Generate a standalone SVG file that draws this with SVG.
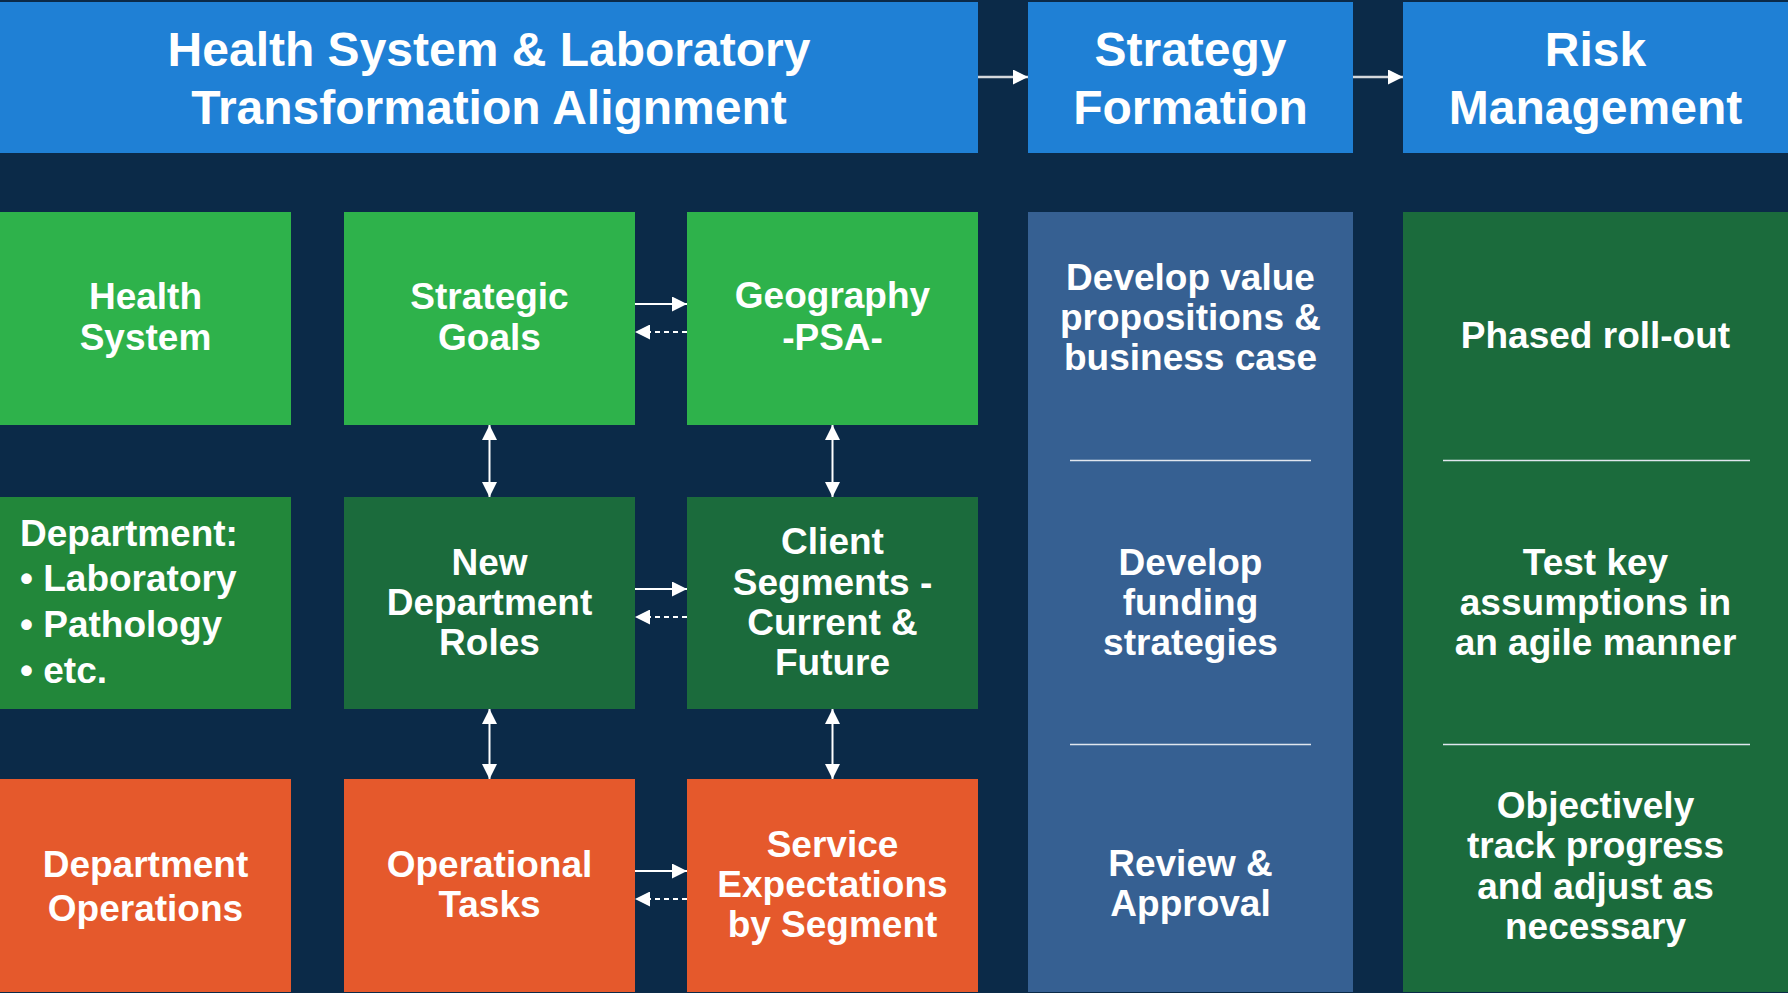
<svg xmlns="http://www.w3.org/2000/svg" width="1788" height="993" viewBox="0 0 1788 993">
<defs>
<style>
.t{font-family:"Liberation Sans",Arial,sans-serif;font-weight:bold;fill:#ffffff;text-anchor:middle;font-size:37px}
.h{font-size:48px}
.l{text-anchor:start}
.hdr{fill:#1f80d5}
.lg{fill:#2eb24b}
.dg{fill:#1b6b3c}
.mg{fill:#22873a}
.or{fill:#e5592c}
.sb{fill:#366092}
.sep{stroke:#e0e6ee;stroke-width:1.5}
.c{stroke:#ffffff;stroke-width:2;fill:none}
.ct{stroke:#d4d8dc;stroke-width:2.5;fill:none}
.d{stroke-dasharray:5 4}
</style>
<marker id="ah" viewBox="0 0 10 10" refX="10" refY="5" markerWidth="15" markerHeight="15" markerUnits="userSpaceOnUse" orient="auto-start-reverse">
<path d="M0,0 L10,5 L0,10 z" fill="#ffffff"/>
</marker>
</defs>
<rect x="0" y="0" width="1788" height="993" fill="#0b2a48"/>

<g id="hdr-alignment">
<rect class="hdr" x="0" y="2" width="978" height="151"/>
<text class="t h" x="489" y="66">Health System &amp; Laboratory</text>
<text class="t h" x="489" y="124">Transformation Alignment</text>
</g>
<g id="hdr-strategy">
<rect class="hdr" x="1028" y="2" width="325" height="151"/>
<text class="t h" x="1190.5" y="66">Strategy</text>
<text class="t h" x="1190.5" y="124">Formation</text>
</g>
<g id="hdr-risk">
<rect class="hdr" x="1403" y="2" width="385" height="151"/>
<text class="t h" x="1595.5" y="66">Risk</text>
<text class="t h" x="1595.5" y="124">Management</text>
</g>

<g id="health-system">
<rect class="lg" x="0" y="212" width="291" height="213"/>
<text class="t" x="145.5" y="309">Health</text>
<text class="t" x="145.5" y="350">System</text>
</g>
<g id="strategic-goals">
<rect class="lg" x="344" y="212" width="291" height="213"/>
<text class="t" x="489.5" y="309">Strategic</text>
<text class="t" x="489.5" y="350">Goals</text>
</g>
<g id="geography">
<rect class="lg" x="687" y="212" width="291" height="213"/>
<text class="t" x="832.5" y="308">Geography</text>
<text class="t" x="832.5" y="350">-PSA-</text>
</g>

<g id="department">
<rect class="mg" x="0" y="497" width="291" height="212"/>
<text class="t l" x="20" y="546">Department:</text>
<text class="t l" x="20" y="591">• Laboratory</text>
<text class="t l" x="20" y="637">• Pathology</text>
<text class="t l" x="20" y="683">• etc.</text>
</g>
<g id="new-department-roles">
<rect class="dg" x="344" y="497" width="291" height="212"/>
<text class="t" x="489.5" y="575">New</text>
<text class="t" x="489.5" y="615">Department</text>
<text class="t" x="489.5" y="655">Roles</text>
</g>
<g id="client-segments">
<rect class="dg" x="687" y="497" width="291" height="212"/>
<text class="t" x="832.5" y="554">Client</text>
<text class="t" x="832.5" y="595">Segments -</text>
<text class="t" x="832.5" y="635">Current &amp;</text>
<text class="t" x="832.5" y="675">Future</text>
</g>

<g id="department-operations">
<rect class="or" x="0" y="779" width="291" height="213"/>
<text class="t" x="145.5" y="877">Department</text>
<text class="t" x="145.5" y="921">Operations</text>
</g>
<g id="operational-tasks">
<rect class="or" x="344" y="779" width="291" height="213"/>
<text class="t" x="489.5" y="877">Operational</text>
<text class="t" x="489.5" y="917">Tasks</text>
</g>
<g id="service-expectations">
<rect class="or" x="687" y="779" width="291" height="213"/>
<text class="t" x="832.5" y="857">Service</text>
<text class="t" x="832.5" y="897">Expectations</text>
<text class="t" x="832.5" y="937">by Segment</text>
</g>

<g id="strategy-column">
<rect class="sb" x="1028" y="212" width="325" height="780"/>
<text class="t" x="1190.5" y="290">Develop value</text>
<text class="t" x="1190.5" y="330">propositions &amp;</text>
<text class="t" x="1190.5" y="370">business case</text>
<line class="sep" x1="1070" y1="460.5" x2="1311" y2="460.5"/>
<text class="t" x="1190.5" y="575">Develop</text>
<text class="t" x="1190.5" y="615">funding</text>
<text class="t" x="1190.5" y="655">strategies</text>
<line class="sep" x1="1070" y1="744.5" x2="1311" y2="744.5"/>
<text class="t" x="1190.5" y="876">Review &amp;</text>
<text class="t" x="1190.5" y="916">Approval</text>
</g>
<g id="risk-column">
<rect class="dg" x="1403" y="212" width="385" height="780"/>
<text class="t" x="1595.5" y="348">Phased roll-out</text>
<line class="sep" x1="1443" y1="460.5" x2="1750" y2="460.5"/>
<text class="t" x="1595.5" y="575">Test key</text>
<text class="t" x="1595.5" y="615">assumptions in</text>
<text class="t" x="1595.5" y="655">an agile manner</text>
<line class="sep" x1="1443" y1="744.5" x2="1750" y2="744.5"/>
<text class="t" x="1595.5" y="818">Objectively</text>
<text class="t" x="1595.5" y="858">track progress</text>
<text class="t" x="1595.5" y="899">and adjust as</text>
<text class="t" x="1595.5" y="939">necessary</text>
</g>

<g id="connectors">
<line class="ct" x1="978" y1="77" x2="1028" y2="77" marker-end="url(#ah)"/>
<line class="ct" x1="1353" y1="77" x2="1403" y2="77" marker-end="url(#ah)"/>
<line class="c" x1="635" y1="304" x2="687" y2="304" marker-end="url(#ah)"/>
<line class="c d" x1="687" y1="332" x2="635" y2="332" marker-end="url(#ah)"/>
<line class="c" x1="635" y1="589" x2="687" y2="589" marker-end="url(#ah)"/>
<line class="c d" x1="687" y1="617" x2="635" y2="617" marker-end="url(#ah)"/>
<line class="c" x1="635" y1="871" x2="687" y2="871" marker-end="url(#ah)"/>
<line class="c d" x1="687" y1="899" x2="635" y2="899" marker-end="url(#ah)"/>
<line class="c" x1="489.5" y1="425" x2="489.5" y2="497" marker-start="url(#ah)" marker-end="url(#ah)"/>
<line class="c" x1="832.5" y1="425" x2="832.5" y2="497" marker-start="url(#ah)" marker-end="url(#ah)"/>
<line class="c" x1="489.5" y1="709" x2="489.5" y2="779" marker-start="url(#ah)" marker-end="url(#ah)"/>
<line class="c" x1="832.5" y1="709" x2="832.5" y2="779" marker-start="url(#ah)" marker-end="url(#ah)"/>
</g>
</svg>
